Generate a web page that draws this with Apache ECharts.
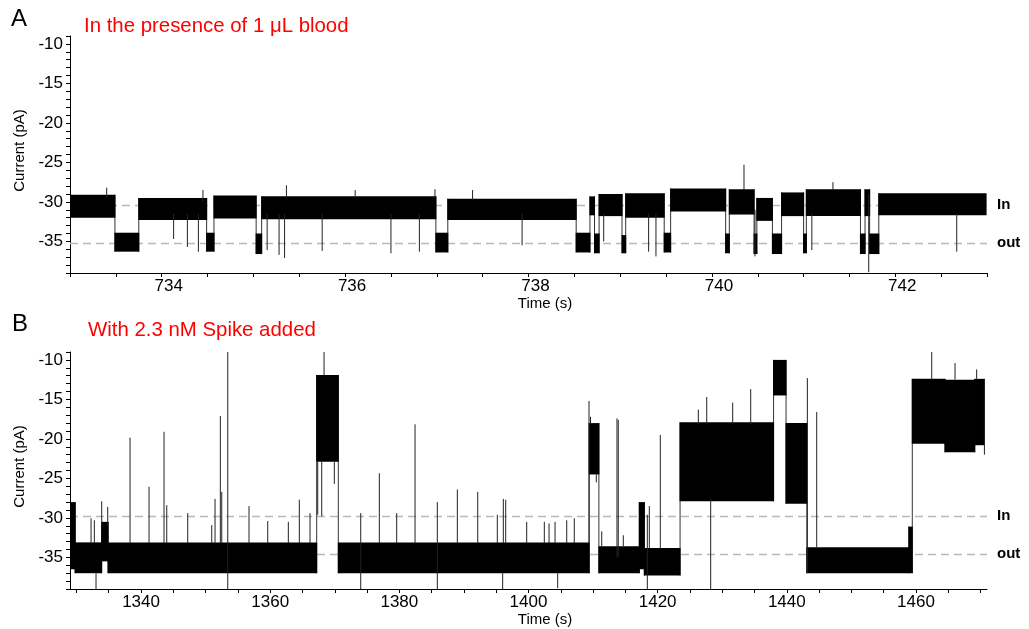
<!DOCTYPE html>
<html>
<head>
<meta charset="utf-8">
<script src="https://cdn.jsdelivr.net/npm/echarts@6/dist/echarts.min.js"></script>
<style>
html,body{margin:0;padding:0;background:#fff;}
#chart{width:1029px;height:629px;}
</style>
</head>
<body>
<div id="chart"></div>
<script>
// ---------- Panel A data (time s, current pA) ----------
// noise bands: [tStart, tEnd, low, high]
var aBands = [
  [733.00, 733.49, -32.0, -29.1],
  [733.49, 733.75, -36.3, -33.9],
  [733.75, 734.49, -32.3, -29.5],
  [734.49, 734.57, -36.3, -33.9],
  [734.57, 735.03, -32.1, -29.2],
  [735.03, 735.09, -36.6, -34.0],
  [735.09, 736.99, -32.2, -29.3],
  [736.99, 737.12, -36.4, -33.9],
  [737.12, 738.52, -32.3, -29.6],
  [738.52, 738.67, -36.4, -33.9],
  [738.67, 738.72, -31.7, -29.3],
  [738.72, 738.77, -36.5, -34.0],
  [738.77, 739.02, -31.8, -29.0],
  [739.02, 739.06, -36.5, -34.2],
  [739.06, 739.48, -32.0, -28.9],
  [739.48, 739.55, -36.4, -33.9],
  [739.55, 740.15, -31.2, -28.3],
  [740.15, 740.19, -36.5, -34.0],
  [740.19, 740.46, -31.6, -28.4],
  [740.46, 740.49, -36.6, -34.0],
  [740.49, 740.66, -32.4, -29.5],
  [740.66, 740.76, -36.6, -34.0],
  [740.76, 741.00, -31.8, -28.8],
  [741.00, 741.03, -36.5, -34.0],
  [741.03, 741.62, -31.8, -28.4],
  [741.62, 741.67, -36.6, -34.0],
  [741.67, 741.72, -31.8, -28.4],
  [741.72, 741.82, -36.6, -34.0],
  [741.82, 742.99, -31.7, -28.9]
];
// single spikes: [t, from, to]
var aSpikes = [
  [733.40, -29.5, -28.2],
  [734.13, -31.5, -34.7],
  [734.28, -31.5, -35.7],
  [734.40, -31.5, -36.3],
  [734.45, -30.0, -28.5],
  [735.15, -31.5, -36.1],
  [735.28, -31.5, -36.7],
  [735.34, -31.5, -37.1],
  [735.36, -29.5, -27.9],
  [735.75, -31.5, -36.2],
  [736.11, -29.5, -28.5],
  [736.50, -31.5, -36.5],
  [736.81, -31.5, -36.3],
  [736.98, -29.5, -28.4],
  [737.39, -29.8, -28.5],
  [737.93, -31.5, -35.5],
  [738.82, -31.5, -35.0],
  [739.31, -31.5, -36.3],
  [739.39, -31.5, -36.9],
  [740.35, -28.5, -25.3],
  [740.47, -31.0, -36.9],
  [741.09, -31.5, -36.1],
  [741.32, -28.5, -27.5],
  [741.71, -29.0, -38.9],
  [742.67, -31.5, -36.3]
];
var aLevels = [-30.4, -35.2];          // In, out
var aXTicks = [733, 733.5, 734, 734.5, 735, 735.5, 736, 736.5, 737, 737.5, 738, 738.5, 739, 739.5, 740, 740.5, 741, 741.5, 742, 742.5, 743];
var aXLabels = [734, 736, 738, 740, 742];

// ---------- Panel B data ----------
var bBands = [
  [1329.0, 1329.8, -36.5, -28.0],
  [1329.8, 1333.9, -37.0, -33.1],
  [1333.9, 1334.9, -35.5, -30.5],
  [1334.9, 1367.2, -37.0, -33.1],
  [1367.2, 1370.55, -22.9, -11.9],
  [1370.55, 1409.4, -37.0, -33.1],
  [1409.4, 1410.9, -24.5, -18.0],
  [1410.9, 1417.16, -37.0, -33.6],
  [1417.16, 1417.94, -36.5, -28.0],
  [1417.94, 1423.47, -37.3, -33.8],
  [1423.47, 1437.95, -27.9, -17.9],
  [1437.95, 1439.88, -14.5, -10.0],
  [1439.88, 1443.1, -28.2, -18.0],
  [1443.1, 1458.9, -37.0, -33.7],
  [1458.9, 1459.43, -37.0, -31.1],
  [1459.43, 1464.5, -20.6, -12.4],
  [1464.5, 1469.1, -21.7, -12.5],
  [1469.1, 1470.6, -20.8, -12.4]
];
var bSpikes = [
  [1332.26, -33.2, -30.05],
  [1332.77, -33.2, -30.3],
  [1333.03, -37.0, -39.0],
  [1333.91, -31.0, -27.9],
  [1334.84, -31.0, -28.6],
  [1338.30, -33.2, -19.85],
  [1341.24, -33.2, -26.05],
  [1343.56, -33.2, -19.1],
  [1343.98, -33.2, -28.4],
  [1347.23, -33.2, -29.4],
  [1350.95, -33.2, -30.9],
  [1351.46, -33.2, -27.6],
  [1352.28, -33.2, -17.1],
  [1352.50, -33.2, -26.7],
  [1353.43, -39.0, -9.0],
  [1356.72, -33.2, -28.5],
  [1359.62, -33.2, -30.4],
  [1362.81, -33.2, -30.5],
  [1364.51, -33.2, -27.7],
  [1366.17, -33.2, -29.4],
  [1367.36, -22.9, -29.6],
  [1367.98, -22.9, -29.8],
  [1368.34, -11.9, -9.0],
  [1369.93, -22.9, -25.7],
  [1374.02, -39.0, -29.4],
  [1376.90, -33.2, -24.35],
  [1379.59, -33.2, -29.4],
  [1382.43, -33.2, -18.15],
  [1385.88, -39.0, -28.0],
  [1388.98, -33.2, -26.4],
  [1392.14, -33.2, -26.7],
  [1395.17, -33.2, -29.6],
  [1396.00, -37.0, -39.0],
  [1396.10, -33.2, -27.6],
  [1396.47, -33.2, -27.7],
  [1399.72, -33.2, -30.5],
  [1402.45, -33.2, -30.5],
  [1403.18, -33.2, -30.7],
  [1404.11, -33.2, -30.5],
  [1404.52, -37.0, -38.9],
  [1405.92, -33.2, -30.3],
  [1407.09, -33.2, -30.05],
  [1409.37, -33.2, -15.2],
  [1409.60, -18.0, -17.2],
  [1410.50, -24.5, -25.5],
  [1411.34, -33.6, -31.7],
  [1413.70, -35.0, -17.4],
  [1413.90, -35.0, -17.6],
  [1414.68, -33.6, -32.2],
  [1418.40, -39.0, -29.6],
  [1418.71, -33.8, -28.5],
  [1420.41, -33.8, -19.5],
  [1426.30, -18.1, -16.3],
  [1427.60, -18.1, -14.7],
  [1428.21, -39.0, -27.6],
  [1431.62, -18.1, -15.4],
  [1434.41, -18.1, -13.7],
  [1443.18, -37.0, -12.3],
  [1444.63, -33.7, -16.6],
  [1462.44, -12.4, -9.0],
  [1466.05, -12.5, -10.4],
  [1469.40, -12.4, -11.2],
  [1470.60, -12.4, -22.0]
];
var bLevels = [-29.8, -34.6];
var bXTicks = [1330, 1335, 1340, 1345, 1350, 1355, 1360, 1365, 1370, 1375, 1380, 1385, 1390, 1395, 1400, 1405, 1410, 1415, 1420, 1425, 1430, 1435, 1440, 1445, 1450, 1455, 1460, 1465, 1470];
var bXLabels = [1340, 1360, 1380, 1400, 1420, 1440, 1460];

// ---------- shared y axis ticks ----------
var yTicks = [-39, -38, -37, -36, -35, -34, -33, -32, -31, -30, -29, -28, -27, -26, -25, -24, -23, -22, -21, -20, -19, -18, -17, -16, -15, -14, -13, -12, -11, -10, -9];
var yLabels = [-35, -30, -25, -20, -15, -10];
var levelNames = ['In', 'out'];
var titlesA = ['A', 'In the presence of 1 \u03bcL blood'];
var titlesB = ['B', 'With 2.3 nM Spike added'];

var FONT = '"Liberation Sans", Arial, sans-serif';

function transitions(bands) {
  var out = [];
  for (var i = 1; i < bands.length; i++) {
    var p = bands[i - 1], c = bands[i];
    out.push([c[0], Math.min(p[2], c[2]), Math.max(p[3], c[3])]);
  }
  return out;
}

function clipTo(params, r) {
  return echarts.graphic.clipRectByRect(r, {
    x: params.coordSys.x, y: params.coordSys.y,
    width: params.coordSys.width, height: params.coordSys.height
  });
}

function renderBand(params, api) {
  var p0 = api.coord([api.value(0), api.value(3)]);
  var p1 = api.coord([api.value(1), api.value(2)]);
  var r = clipTo(params, {x: p0[0] - 0.5, y: p0[1], width: Math.max(p1[0] - p0[0], 1) + 1, height: p1[1] - p0[1]});
  return r && {type: 'rect', shape: r, style: {fill: '#000', stroke: null}};
}

function makeLineRenderer(color, width) {
  return function (params, api) {
    var p0 = api.coord([api.value(0), api.value(1)]);
    var p1 = api.coord([api.value(0), api.value(2)]);
    return {type: 'line', shape: {x1: p0[0], y1: p0[1], x2: p1[0], y2: p1[1]},
      style: {stroke: color, lineWidth: width, fill: null}};
  };
}

function plain(v) { return String(v); }

function xAxisFor(idx, min, max, ticks, labels, labelPad) {
  return {
    type: 'value', gridIndex: idx, min: min, max: max,
    axisLine: {show: true, lineStyle: {color: '#000', width: 1}},
    axisTick: {show: true, customValues: ticks, length: 4, lineStyle: {color: '#000'}},
    axisLabel: {customValues: labels, formatter: plain, fontSize: 17, color: '#000', fontFamily: FONT, margin: 5, padding: labelPad},
    splitLine: {show: false},
    name: 'Time (s)', nameLocation: 'middle', nameGap: 21,
    nameTextStyle: {fontSize: 15, color: '#000', fontFamily: FONT, padding: [0, 0, 0, 33]}
  };
}

function yAxisFor(idx) {
  return {
    type: 'value', gridIndex: idx, min: -39, max: -9,
    axisLine: {show: true, lineStyle: {color: '#000', width: 1}},
    axisTick: {show: true, customValues: yTicks, length: 4, lineStyle: {color: '#000'}},
    axisLabel: {customValues: yLabels, formatter: plain, fontSize: 17, color: '#000', fontFamily: FONT, margin: 7},
    splitLine: {show: false},
    name: 'Current (pA)', nameLocation: 'middle', nameGap: 38,
    nameTextStyle: {fontSize: 15, color: '#000', fontFamily: FONT, padding: [0, 0, 0, 8]}
  };
}

function levelSeries(idx, levels) {
  return {
    type: 'line', xAxisIndex: idx, yAxisIndex: idx, data: [], z: 1,
    markLine: {
      silent: true, symbol: ['none', 'none'], z: 1,
      lineStyle: {color: '#b8b8b8', type: [8, 5], width: 1.3},
      label: {show: true, position: 'end', distance: 10, color: '#000', fontWeight: 'bold', fontSize: 15, fontFamily: FONT,
        formatter: function (p) { return p.name; }},
      data: levels.map(function (v, i) { return {yAxis: v, name: levelNames[i]}; })
    }
  };
}

function traceSeries(idx, bands, spikes) {
  return [
    {type: 'custom', xAxisIndex: idx, yAxisIndex: idx, z: 2, renderItem: makeLineRenderer('#333', 1),
      encode: {x: 0, y: [1, 2]}, data: transitions(bands), silent: true},
    {type: 'custom', xAxisIndex: idx, yAxisIndex: idx, z: 3, renderItem: renderBand,
      encode: {x: [0, 1], y: [2, 3]}, data: bands, silent: true},
    {type: 'custom', xAxisIndex: idx, yAxisIndex: idx, z: 4, renderItem: makeLineRenderer('#222', 1),
      encode: {x: 0, y: [1, 2]}, data: spikes, silent: true}
  ];
}

var chart = echarts.init(document.getElementById('chart'), null, {renderer: 'canvas'});
var option = {
  animation: false,
  backgroundColor: '#fff',
  textStyle: {fontFamily: FONT},
  grid: [
    {left: 70, right: 42, top: 36, height: 237},
    {left: 70, right: 42, top: 352, height: 237}
  ],
  xAxis: [
    xAxisFor(0, 733, 743, aXTicks, aXLabels, [0, 0, 0, 14]),
    xAxisFor(1, 1329, 1471, bXTicks, bXLabels, [0, 0, 0, 0])
  ],
  yAxis: [yAxisFor(0), yAxisFor(1)],
  graphic: [
    {type: 'text', x: 11, y: 19, style: {text: titlesA[0], fontSize: 24, fontFamily: FONT, fill: '#000', verticalAlign: 'middle'}},
    {type: 'text', x: 84, y: 26, style: {text: titlesA[1], fontSize: 20.4, fontFamily: FONT, fill: '#ff0000', verticalAlign: 'middle'}},
    {type: 'text', x: 12, y: 324, style: {text: titlesB[0], fontSize: 24, fontFamily: FONT, fill: '#000', verticalAlign: 'middle'}},
    {type: 'text', x: 88, y: 330, style: {text: titlesB[1], fontSize: 20.4, fontFamily: FONT, fill: '#ff0000', verticalAlign: 'middle'}}
  ],
  series: [levelSeries(0, aLevels), levelSeries(1, bLevels)]
    .concat(traceSeries(0, aBands, aSpikes))
    .concat(traceSeries(1, bBands, bSpikes))
};
chart.setOption(option);
</script>
</body>
</html>
